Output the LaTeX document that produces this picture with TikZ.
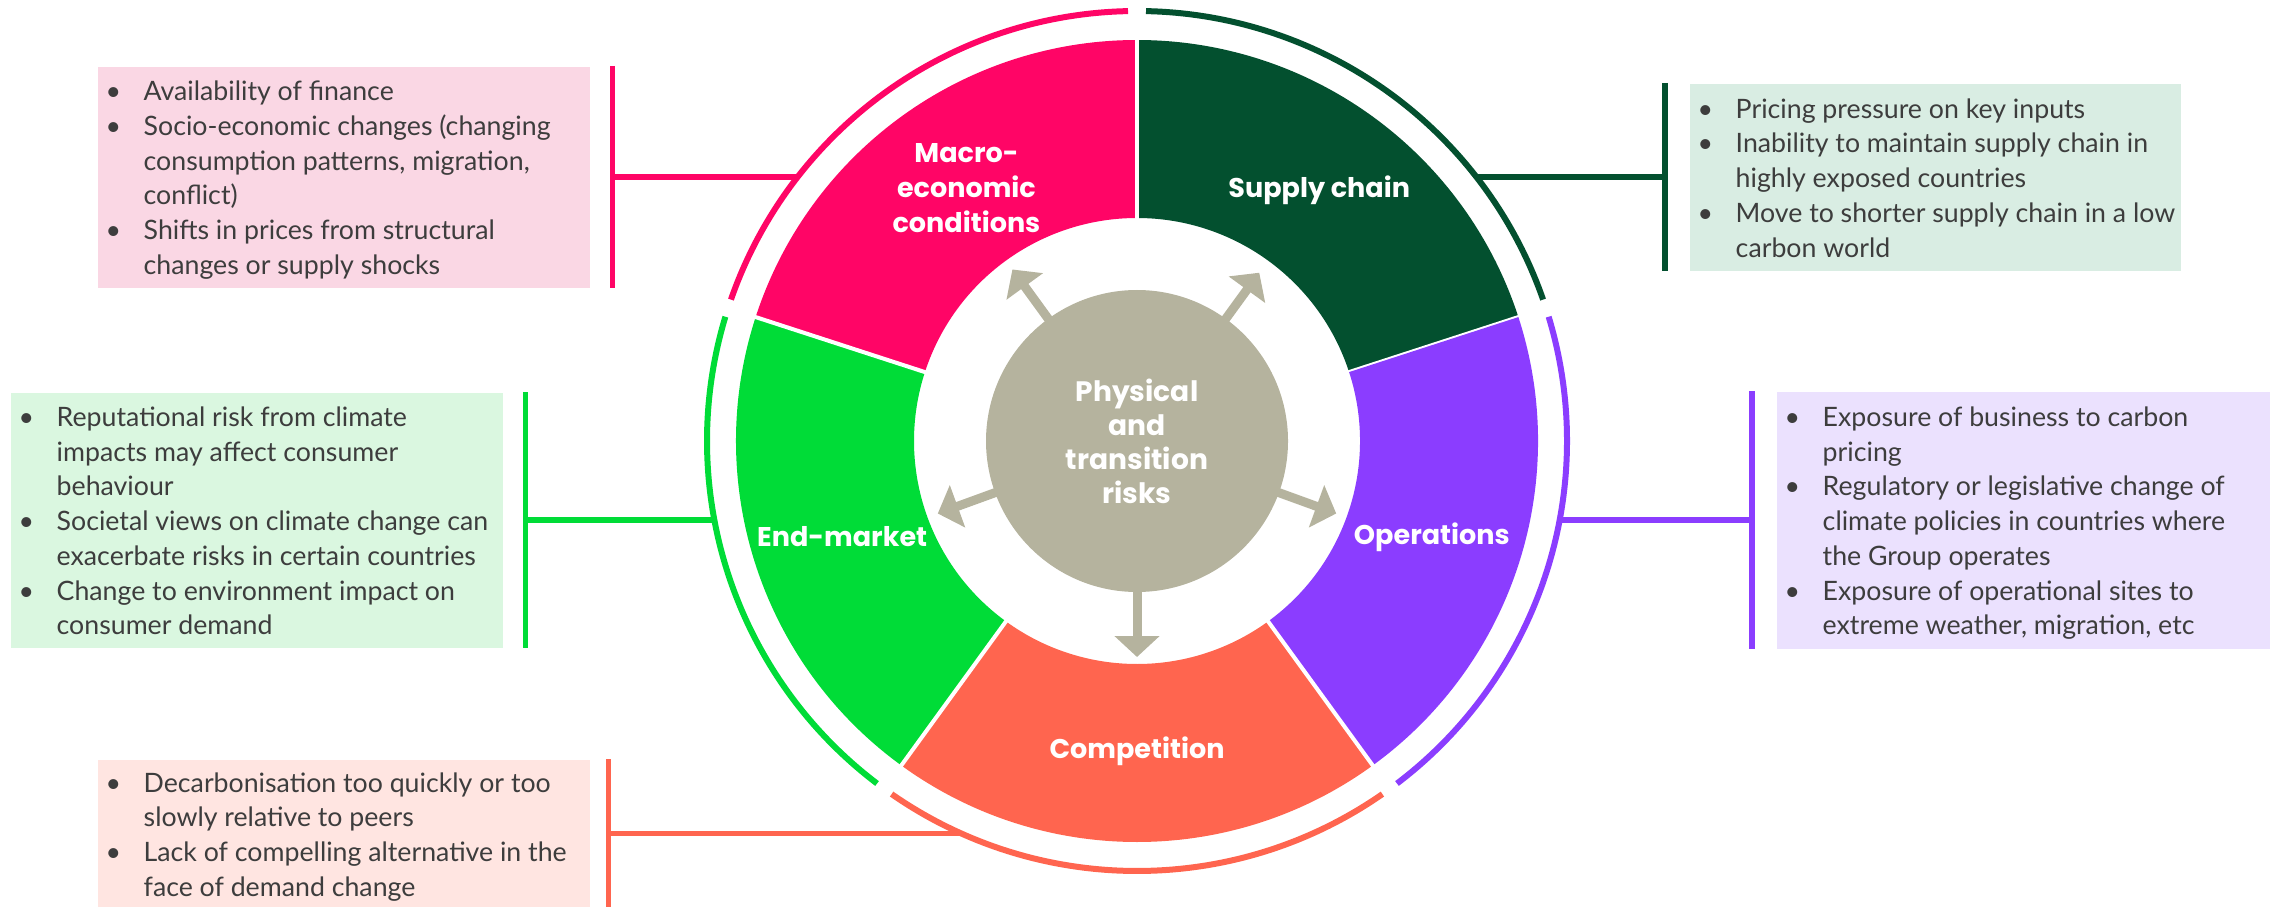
\documentclass[tikz,border=0pt]{standalone}
\usepackage{fontspec}
\setmainfont{Lato}
\newfontfamily\labelfont{Poppins}
\usepackage{xcolor}
\usepackage{tikz}
\usetikzlibrary{arrows.meta,positioning,calc,backgrounds}

\definecolor{macro}{HTML}{FF0566}
\definecolor{supply}{HTML}{03502F}
\definecolor{ops}{HTML}{8B3DFF}
\definecolor{comp}{HTML}{FF654F}
\definecolor{endm}{HTML}{00DC37}
\definecolor{hubgrey}{HTML}{B5B39E}
\definecolor{macrolt}{HTML}{FAD7E4}
\definecolor{supplylt}{HTML}{D9EDE3}
\definecolor{opslt}{HTML}{EBE1FE}
\definecolor{complt}{HTML}{FFE5E1}
\definecolor{endmlt}{HTML}{DAF7E0}
\definecolor{bodytext}{HTML}{3D3D3D}

% bullet column + text column
\newcommand{\risklist}[1]{\begin{tabular}{@{}p{0.38cm}@{}l@{}}#1\end{tabular}}

\begin{document}
\begin{tikzpicture}[
    notebox/.style={rectangle, anchor=north west, inner sep=0pt},
    notetext/.style={anchor=west, inner sep=0pt, text=bodytext, font=\fontsize{7.6}{9.87}\selectfont},
    seglabel/.style={text=white, align=center, font=\labelfont\bfseries\fontsize{7.7}{9.9}\selectfont},
    hub/.style={circle, fill=hubgrey, minimum size=3.02cm, inner sep=0pt, text=white, align=center, font=\labelfont\bfseries\fontsize{8}{9.7}\selectfont},
    ring/.style={line width=0.06cm},
    bar/.style={line width=0.055cm},
    spoke/.style={hubgrey, line width=0.09cm, -{Triangle[width=0.44cm, length=0.21cm]}}
]
\useasboundingbox (0,0) rectangle (22.70,-9.07);

\coordinate (wheel) at (11.37,-4.41);

% wheel segments, outer rings and labels
\begin{scope}[shift={(wheel)}]
\foreach \a/\col in {18/supply, 90/macro, 162/endm, 234/comp, 306/ops} {
    \fill[\col] (\a:2.23) arc[start angle=\a, end angle=\a+72, radius=2.23]
        -- (\a+72:4.01) arc[start angle=\a+72, end angle=\a, radius=4.01] -- cycle;
    \draw[white, line width=0.04cm] (\a:2.1) -- (\a:4.1);
    \draw[ring, \col] (\a+1.2:4.3) arc[start angle=\a+1.2, end angle=\a+70.8, radius=4.3];
}
\node[seglabel] (macrolabel) at (124:3.05) {Macro-\\economic\\conditions};
\node[seglabel] (supplylabel) at (54:3.1) {Supply chain};
\node[seglabel] (endmlabel) at (198:3.1) {End-market};
\node[seglabel] (opslabel) at (342:3.1) {Operations};
\node[seglabel] (complabel) at (270:3.1) {Competition};

\coordinate (macrotie) at (142:4.3);
\coordinate (supplytie) at (38:4.3);
\coordinate (endmtie) at (190.5:4.3);
\coordinate (opstie) at (349.5:4.3);
\coordinate (comptie) at (245.7:4.3);
\end{scope}

\node[hub] (hub) at (wheel) {Physical\\and\\transition\\risks};
\begin{scope}[on background layer]
\foreach \a/\r in {54/2.08, 126/2.12, 200/2.12, 270/2.16, 340/2.12} {
    \coordinate (tip\a) at ($(hub.center)+(\a:\r)$);
    \draw[spoke] (hub.center) -- (tip\a);
}
\end{scope}

% risk boxes
\node[notebox, fill=macrolt, minimum width=4.92cm, minimum height=2.21cm] (macrobox) at (0.97,-0.66) {};
\node[notebox, fill=endmlt, minimum width=4.92cm, minimum height=2.55cm] (endmbox) at (0.10,-3.92) {};
\node[notebox, fill=complt, minimum width=4.92cm, minimum height=1.48cm] (compbox) at (0.97,-7.59) {};
\node[notebox, fill=supplylt, minimum width=4.91cm, minimum height=1.87cm] (supplybox) at (16.89,-0.83) {};
\node[notebox, fill=opslt, minimum width=4.93cm, minimum height=2.57cm] (opsbox) at (17.76,-3.91) {};

\node[notetext] (macrotext) at ([xshift=0.08cm, yshift=-0.035cm]macrobox.west) {\risklist{%
\textbullet & Availability of finance\\
\textbullet & Socio-economic changes (changing\\
 & consumption patterns, migration,\\
 & conflict)\\
\textbullet & Shifts in prices from structural\\
 & changes or supply shocks}};
\node[notetext] (endmtext) at ([xshift=0.08cm, yshift=-0.035cm]endmbox.west) {\risklist{%
\textbullet & Reputational risk from climate\\
 & impacts may affect consumer\\
 & behaviour\\
\textbullet & Societal views on climate change can\\
 & exacerbate risks in certain countries\\
\textbullet & Change to environment impact on\\
 & consumer demand}};
\node[notetext] (comptext) at ([xshift=0.08cm, yshift=-0.035cm]compbox.west) {\risklist{%
\textbullet & Decarbonisation too quickly or too\\
 & slowly relative to peers\\
\textbullet & Lack of compelling alternative in the\\
 & face of demand change}};
\node[notetext] (supplytext) at ([xshift=0.08cm, yshift=-0.035cm]supplybox.west) {\risklist{%
\textbullet & Pricing pressure on key inputs\\
\textbullet & Inability to maintain supply chain in\\
 & highly exposed countries\\
\textbullet & Move to shorter supply chain in a low\\
 & carbon world}};
\node[notetext] (opstext) at ([xshift=0.08cm, yshift=-0.035cm]opsbox.west) {\risklist{%
\textbullet & Exposure of business to carbon\\
 & pricing\\
\textbullet & Regulatory or legislative change of\\
 & climate policies in countries where\\
 & the Group operates\\
\textbullet & Exposure of operational sites to\\
 & extreme weather, migration, etc}};

% bars and links to the ring
\coordinate[right=0.22cm of macrobox.east] (macrojoin);
\coordinate[right=0.22cm of endmbox.east] (endmjoin);
\coordinate[right=0.18cm of compbox.east] (compjoin);
\coordinate[left=0.24cm of supplybox.west] (supplyjoin);
\coordinate[left=0.24cm of opsbox.west] (opsjoin);

\foreach \n in {macro, endm, comp, supply, ops} {
    \draw[bar, \n] (\n join |- \n box.north) -- (\n join |- \n box.south);
    \draw[bar, \n] (\n join) -- (\n join -| \n tie);
}

\end{tikzpicture}
\end{document}
